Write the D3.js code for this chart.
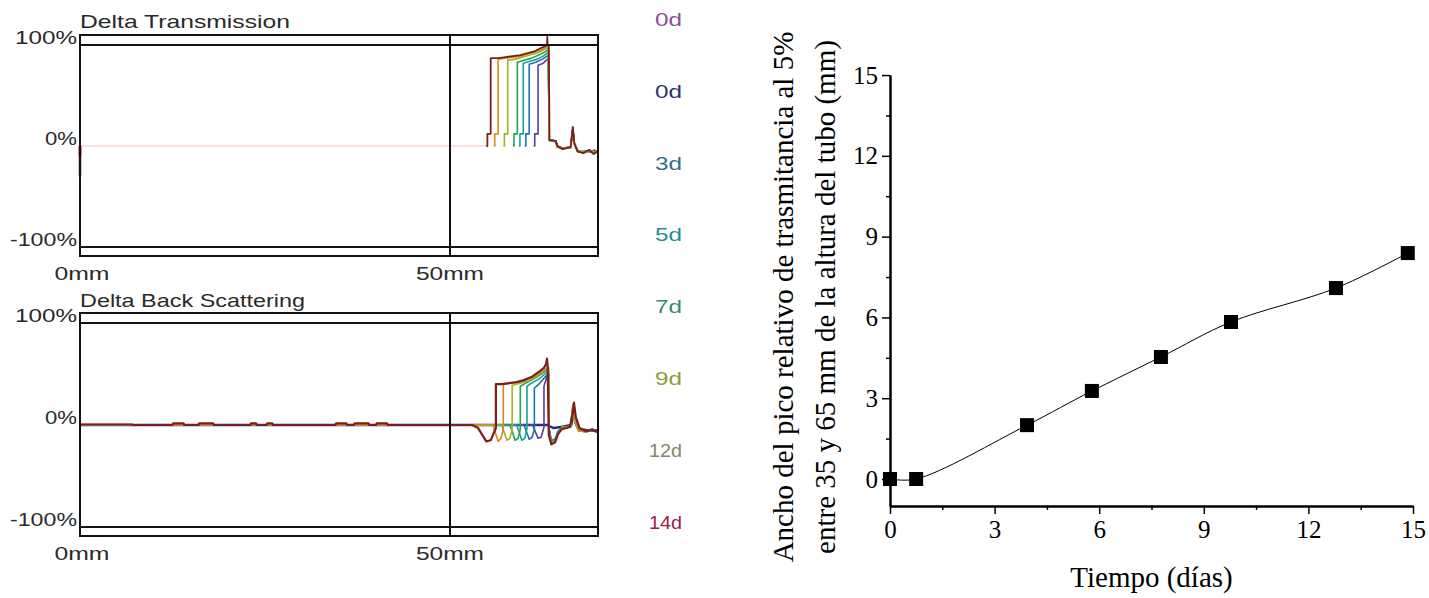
<!DOCTYPE html>
<html><head><meta charset="utf-8">
<script src="https://cdn.jsdelivr.net/npm/d3@7/dist/d3.min.js"></script>
<style>body{margin:0;background:#fff}svg{display:block}</style>
</head><body>
<svg id="c" width="1429" height="598"></svg>
<script>
// ---------------- DATA ----------------
const legendLabels = ["0d","0d","3d","5d","7d","9d","12d","14d"];
const legendColors = ["#8a4f93","#2d3270","#2f6f8c","#2a8a96","#3a8a72","#8c9c3c","#8c8462","#9a2342"];
const curveColors  = ["#2a2a86","#5a3aa0","#2070b8","#18a0a0","#2aa050","#a0b420","#d88a20","#7a1e1e"];

const panelYTicks = [100, 0, -100];
const panelYTickLabels = ["100%","0%","-100%"];
const panelXTicks = [0, 50];
const panelXTickLabels = ["0mm","50mm"];

// Delta Transmission (x: mm, y: %)
const transBaseline = [[0,0],[55,0]];
const transLeftEdge14 = [[0,0],[0,-10]];
const transLeftEdge0 = [[0,-10],[0,-30]];
const trans_0dB = [[61.3,0],[61.45,0],[61.45,12],[61.9,12],[61.9,80],[62.6,82],[63.3,87],[63.4,6],[64.3,5],[64.5,0],[65.2,-2],[66.3,-1],[66.6,15],[66.8,2],[67.3,-5],[68.1,-6],[68.9,-4],[69.5,-7],[70,-5]];
const trans_3d  = [[60.1,0],[60.25,0],[60.25,12],[60.7,12],[60.7,81],[61.6,83],[62.5,86],[63.3,90],[63.4,6],[64.3,4],[64.5,-1],[65.2,-3],[66.3,-1],[66.6,16],[66.8,2],[67.3,-6],[68.1,-5],[68.9,-6],[69.5,-4],[70,-6]];
const trans_5d  = [[59.3,0],[59.45,0],[59.45,12],[59.9,12],[59.9,82],[60.8,84],[61.8,86],[62.6,89],[63.3,93],[63.4,5],[64.3,5],[64.5,0],[65.2,-2],[66.3,-2],[66.6,17],[66.8,3],[67.3,-5],[68.1,-7],[68.9,-5],[69.5,-6],[70,-5]];
const trans_7d  = [[58.5,0],[58.65,0],[58.65,12],[59.1,12],[59.1,83],[60.0,85],[61.0,87],[62.0,90],[62.8,93],[63.3,96],[63.4,6],[64.3,5],[64.5,-1],[65.2,-2],[66.3,-1],[66.6,18],[66.8,2],[67.3,-6],[68.1,-6],[68.9,-4],[69.5,-7],[70,-6]];
const trans_9d  = [[57.2,0],[57.35,0],[57.35,12],[57.8,12],[57.8,85],[58.8,86],[59.8,88],[60.8,90],[61.8,92],[62.6,95],[63.3,98],[63.4,6],[64.3,5],[64.5,0],[65.2,-3],[66.3,-1],[66.6,17],[66.8,3],[67.3,-5],[68.1,-6],[68.9,-5],[69.5,-6],[70,-5]];
const trans_12d = [[55.9,0],[56.05,0],[56.05,12],[56.5,12],[56.5,86],[57.5,87],[58.5,88],[59.5,89],[60.5,91],[61.5,93],[62.5,96],[63.3,99],[63.4,6],[64.3,5],[64.5,-1],[65.2,-2],[66.3,-2],[66.6,18],[66.8,2],[67.3,-6],[68.1,-7],[68.9,-5],[69.5,-6],[70,-6]];
const trans_14d = [[54.9,0],[55.05,0],[55.05,12],[55.5,12],[55.5,87],[56.5,87],[57.5,88],[58.5,89],[59.5,90],[60.5,92],[61.5,94],[62.3,97],[62.9,99],[63.1,100],[63.15,108],[63.2,100],[63.35,100],[63.45,6],[64.3,5],[64.5,0],[65.2,-3],[66.3,-1],[66.6,19],[66.8,3],[67.2,-5],[68.0,-7],[68.8,-4],[69.4,-8],[70,-5]];

// Delta Back Scattering (x: mm, y: %)
const back_0dA = [[0,0],[50,0],[63.2,0],[63.4,-1],[64,-3],[65,-2],[66.4,0],[66.7,12],[67,2],[67.6,-4],[68.5,-5],[70,-5]];
const back_0dB = [[0,0],[50,0],[61.2,0],[61.5,-6],[61.9,-13],[62.3,-12],[62.6,-5],[62.7,-2],[62.7,38],[63.0,45],[63.2,50],[63.35,51],[63.4,-4],[63.7,-15],[64.2,-14],[64.6,-6],[65.2,-2],[66.3,-1],[66.6,15],[66.9,3],[67.4,-5],[68.3,-6],[69.2,-4],[70,-6]];
const back_3d  = [[0,0],[50,0],[60.0,0],[60.3,-6],[60.7,-14],[61.1,-12],[61.4,-4],[61.4,36],[62.0,40],[62.6,45],[63.2,50],[63.35,50],[63.4,-4],[63.7,-16],[64.2,-14],[64.6,-7],[65.2,-3],[66.3,-1],[66.6,16],[66.9,2],[67.4,-6],[68.3,-6],[69.2,-5],[70,-6]];
const back_5d  = [[0,0],[50,0],[59.0,0],[59.3,-6],[59.7,-15],[60.1,-13],[60.4,-4],[60.4,38],[61.0,41],[62.0,45],[62.8,50],[63.3,53],[63.4,-5],[63.7,-16],[64.2,-15],[64.6,-7],[65.2,-2],[66.3,-2],[66.6,17],[66.9,3],[67.4,-5],[68.3,-7],[69.2,-5],[70,-6]];
const back_7d  = [[0,0],[50,0],[58.1,0],[58.4,-6],[58.8,-15],[59.2,-13],[59.5,-4],[59.5,38],[60.5,42],[61.5,46],[62.5,51],[63.3,55],[63.4,-6],[63.7,-17],[64.2,-15],[64.6,-8],[65.2,-3],[66.3,-1],[66.6,18],[66.9,2],[67.4,-6],[68.3,-6],[69.2,-4],[70,-7]];
const back_9d  = [[0,0],[50,0],[57.0,0],[57.3,-7],[57.7,-15],[58.1,-13],[58.4,-4],[58.4,39],[59.5,41],[60.5,43],[61.5,47],[62.5,52],[63.3,56],[63.4,-8],[63.7,-17],[64.2,-16],[64.6,-8],[65.2,-2],[66.3,-2],[66.6,18],[66.9,3],[67.4,-5],[68.3,-7],[69.2,-5],[70,-6]];
const back_12d = [[0,0],[50,0],[55.8,0],[56.1,-7],[56.5,-16],[56.9,-13],[57.2,-4],[57.2,40],[58.2,41],[59.2,42],[60.2,44],[61.2,47],[62.2,51],[63.0,55],[63.3,57],[63.4,-10],[63.7,-18],[64.2,-16],[64.6,-8],[65.2,-3],[66.3,-1],[66.6,20],[66.9,3],[67.4,-6],[68.3,-6],[69.2,-5],[70,-7]];
const back_14d = [[0,0.5],[7,0.5],[7.2,0],[12.5,0],[12.6,1.5],[14,1.5],[14.1,0],[16,0],[16.1,1.5],[18,1.5],[18.1,0],[23,0],[23.1,1.5],[23.8,1.5],[23.9,0],[25.2,0],[25.3,1.5],[26,1.5],[26.1,0],[34.5,0],[34.6,1.5],[36,1.5],[36.1,0],[37,0],[37.1,1.5],[39,1.5],[39.1,0],[40,0],[40.1,1.5],[41.5,1.5],[41.6,0],[50,0],[53.0,0],[53.8,-3],[54.3,-9],[54.9,-16],[55.5,-15],[55.9,-8],[56.2,-3],[56.2,40],[57,40],[58,41],[59,42],[60,44],[61,47],[62,52],[62.7,56],[63.0,60],[63.1,65],[63.2,57],[63.35,-10],[63.7,-19],[64.2,-17],[64.6,-9],[65.1,-4],[66.2,-2],[66.6,12],[66.75,22],[67.0,8],[67.5,-3],[68.3,-6],[69.2,-5],[70,-7]];

// Right chart: peak width vs time
const timeDays = [0, 0.75, 3.93, 5.79, 7.77, 9.78, 12.79, 14.85];
const peakWidth = [0, 0, 2.0, 3.27, 4.53, 5.83, 7.09, 8.39];
const xTicksRight = [0,3,6,9,12,15];
const xMinorRight = [1.5,4.5,7.5,10.5,13.5];
const yTicksRight = [0,3,6,9,12,15];
const yMinorRight = [1.5,4.5,7.5,10.5,13.5];

// ---------------- DRAW ----------------
const svg = d3.select("#c");
svg.append("rect").attr("width",1429).attr("height",598).attr("fill","#fff");

const transSeries = [trans_0dB, trans_3d, trans_5d, trans_7d, trans_9d, trans_12d, trans_14d];
const transColors = curveColors.slice(1);
const backSeries = [back_0dA, back_0dB, back_3d, back_5d, back_7d, back_9d, back_12d, back_14d];

const x = d3.scaleLinear().domain([0,70]).range([80,598]);
const sansFont = "'Liberation Sans', Arial, sans-serif";
const txtCol = "#2a2a2a";

function panel(yTopPx, yBotPx, title, titleBase, titleLen, series, colors, widths, extra){
  const y = d3.scaleLinear().domain([-100,100]).range([yBotPx, yTopPx]);
  const g = svg.append("g");
  const line = d3.line().x(d=>x(d[0])).y(d=>y(d[1]));
  if (extra) extra(g, line, y);
  series.forEach((s,i)=>{
    g.append("path").datum(s).attr("d",line).attr("fill","none")
      .attr("stroke",colors[i]).attr("stroke-width",widths[i]).attr("stroke-linejoin","round");
  });
  const outTop = y(100)-10, outBot = y(-100)+9;
  g.append("rect").attr("x",x(0)).attr("y",outTop).attr("width",x(70)-x(0)).attr("height",outBot-outTop)
    .attr("fill","none").attr("stroke","#111").attr("stroke-width",2);
  [100,-100].forEach(v=>{
    g.append("line").attr("x1",x(0)).attr("x2",x(70)).attr("y1",y(v)).attr("y2",y(v))
      .attr("stroke","#111").attr("stroke-width",2);
  });
  g.append("line").attr("x1",x(50)).attr("x2",x(50)).attr("y1",outTop).attr("y2",outBot)
    .attr("stroke","#111").attr("stroke-width",2);
  const yLens = [62,32,67];
  panelYTicks.forEach((v,i)=>{
    g.append("text").attr("x",77).attr("y",y(v)-1).attr("text-anchor","end")
      .attr("font-family",sansFont).attr("font-size",19).attr("fill",txtCol)
      .attr("textLength",yLens[i]).attr("lengthAdjust","spacingAndGlyphs")
      .text(panelYTickLabels[i]);
  });
  const xLens = [55,68];
  panelXTicks.forEach((v,i)=>{
    g.append("text").attr("x",x(v)+(i===0?2:0)).attr("y",outBot+24).attr("text-anchor","middle")
      .attr("font-family",sansFont).attr("font-size",19).attr("fill",txtCol)
      .attr("textLength",xLens[i]).attr("lengthAdjust","spacingAndGlyphs")
      .text(panelXTickLabels[i]);
  });
  g.append("text").attr("x",x(0)).attr("y",titleBase)
    .attr("font-family",sansFont).attr("font-size",19).attr("fill",txtCol)
    .attr("textLength",titleLen).attr("lengthAdjust","spacingAndGlyphs")
    .text(title);
}

panel(45, 247, "Delta Transmission", 28, 210, transSeries, transColors, [1.6,1.6,1.6,1.6,1.6,1.6,1.8], (g,line,y)=>{
  g.append("path").datum(transBaseline).attr("d",line).attr("fill","none").attr("stroke","#fbd9d2").attr("stroke-width",1.5);
  g.append("path").datum(transLeftEdge0).attr("d",line).attr("fill","none").attr("stroke","#333").attr("stroke-width",2.5);
  g.append("path").datum(transLeftEdge14).attr("d",line).attr("fill","none").attr("stroke","#b0153a").attr("stroke-width",3);
});
panel(323, 527, "Delta Back Scattering", 307, 225, backSeries, curveColors, [2.4,1.6,1.6,1.6,1.6,1.6,1.6,2.2], null);

legendLabels.forEach((l,i)=>{
  svg.append("text").attr("x",682).attr("y",26 + i*71.8).attr("text-anchor","end")
    .attr("font-family",sansFont).attr("font-size",19).attr("fill",legendColors[i])
    .attr("textLength", l.length===2?27:33).attr("lengthAdjust","spacingAndGlyphs")
    .text(l);
});

// ---------- right chart ----------
const serif = "'Liberation Serif', 'Times New Roman', serif";
const xr = d3.scaleLinear().domain([0,15]).range([890,1413]);
const yr = d3.scaleLinear().domain([-1,15]).range([479+26.93, 479-15*26.93]);
const gr = svg.append("g");

const xAxisMinor = d3.axisBottom(xr).tickValues(xMinorRight).tickSize(4).tickSizeOuter(0).tickFormat("");
const xAxis = d3.axisBottom(xr).tickValues(xTicksRight).tickSize(8).tickSizeOuter(0).tickPadding(6).tickFormat(d3.format("d"));
const yAxisMinor = d3.axisLeft(yr).tickValues(yMinorRight).tickSize(4).tickSizeOuter(0).tickFormat("");
const yAxis = d3.axisLeft(yr).tickValues(yTicksRight).tickSize(8).tickSizeOuter(0).tickPadding(4).tickFormat(d3.format("d"));

function styleAxis(sel){
  sel.selectAll("path.domain").attr("stroke","#000").attr("stroke-width",2);
  sel.selectAll(".tick line").attr("stroke","#000").attr("stroke-width",1.5);
  sel.selectAll("text").attr("font-family",serif).attr("font-size",25).attr("fill","#000");
}
gr.append("g").attr("transform",`translate(0,${yr(-1)})`).call(xAxisMinor).call(styleAxis);
gr.append("g").attr("transform",`translate(0,${yr(-1)})`).call(xAxis).call(styleAxis);
gr.append("g").attr("transform",`translate(${xr(0)},0)`).call(yAxisMinor).call(styleAxis);
gr.append("g").attr("transform",`translate(${xr(0)},0)`).call(yAxis).call(styleAxis);

const pts = timeDays.map((t,i)=>[t, peakWidth[i]]);
gr.append("path").datum(pts)
  .attr("d", d3.line().x(d=>xr(d[0])).y(d=>yr(d[1])).curve(d3.curveCatmullRom.alpha(0.5)))
  .attr("fill","none").attr("stroke","#000").attr("stroke-width",1);
const sq = 14;
gr.selectAll("rect.pt").data(pts).enter().append("rect").attr("class","pt")
  .attr("x",d=>xr(d[0])-sq/2).attr("y",d=>yr(d[1])-sq/2).attr("width",sq).attr("height",sq)
  .attr("fill","#000");

gr.append("text").attr("x",(xr(0)+xr(15))/2).attr("y",587).attr("text-anchor","middle")
  .attr("font-family",serif).attr("font-size",29).attr("fill","#000").text("Tiempo (días)");
const yTitle = ["Ancho del pico relativo de trasmitancia al 5%","entre 35 y 65 mm de la altura del tubo (mm)"];
yTitle.forEach((t,i)=>{
  gr.append("text").attr("transform",`translate(${793 + i*42},297) rotate(-90)`)
    .attr("text-anchor","middle").attr("font-family",serif).attr("font-size",29).attr("fill","#000").text(t);
});
</script>
</body></html>
